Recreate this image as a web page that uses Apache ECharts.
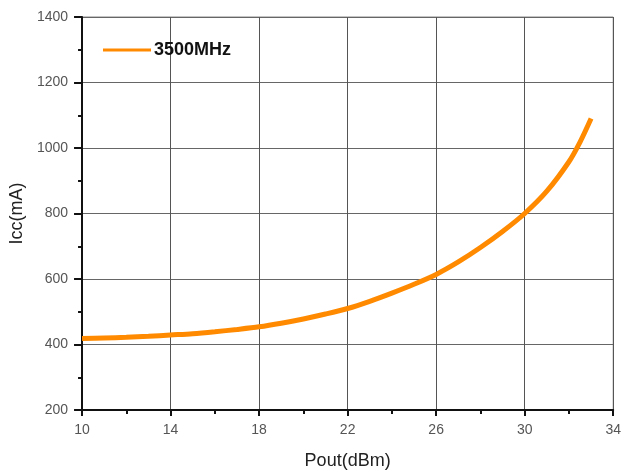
<!DOCTYPE html>
<html>
<head>
<meta charset="utf-8">
<script src="https://cdn.jsdelivr.net/npm/echarts@6/dist/echarts.min.js"></script>
<style>
  html, body { margin: 0; padding: 0; background: #fff; }
  #main { width: 624px; height: 475px; }
</style>
</head>
<body>
<div id="main"></div>
<script>
// Pout (dBm) and Icc (mA)
var pout = [10, 11, 12, 13, 14, 15, 16, 17, 18, 19, 20, 21, 22, 23, 24, 25, 26, 27, 28, 29, 30, 31, 32, 32.5, 33];
var icc  = [418, 420, 422, 425, 429, 433, 439, 446, 454, 465, 478, 493, 510, 532, 557, 584, 614, 652, 696, 745, 800, 868, 958, 1018, 1090];
var seriesName = '3500MHz';

var chart = echarts.init(document.getElementById('main'));
var font = 'Liberation Sans, Arial, sans-serif';

var pts = pout.map(function (x, i) { return [x, icc[i]]; });

chart.setOption({
    animation: false,
    grid: {
        left: 82, right: 8, top: 17, bottom: 64,
        show: true, borderColor: '#888', borderWidth: 1
    },
    legend: {
        left: 98, top: 36,
        itemWidth: 48, itemHeight: 14, itemGap: 4,
        data: [{ name: seriesName, icon: 'path://M0,6 L48,6 L48,9 L0,9 Z' }],
        textStyle: { fontFamily: font, fontSize: 18, fontWeight: 'bold', color: '#111', padding: [0, 0, 0, -2] }
    },
    xAxis: {
        type: 'value', min: 10, max: 34, interval: 4,
        name: 'Pout(dBm)', nameLocation: 'middle', nameGap: 42,
        nameTextStyle: { fontFamily: font, fontSize: 18, color: '#222' },
        axisLine: { lineStyle: { color: '#111', width: 2 } },
        axisTick: { show: true, inside: false, length: 6, lineStyle: { color: '#111', width: 2 } },
        minorTick: { show: true, splitNumber: 2, length: 4, lineStyle: { color: '#111', width: 2 } },
        axisLabel: { fontFamily: font, fontSize: 14, color: '#555', margin: 13 },
        splitLine: { show: true, lineStyle: { color: '#555', width: 1 } }
    },
    yAxis: {
        type: 'value', min: 200, max: 1400, interval: 200,
        name: 'Icc(mA)', nameLocation: 'middle', nameGap: 50,
        nameTextStyle: { fontFamily: font, fontSize: 18, color: '#222' },
        axisLine: { show: true, lineStyle: { color: '#111', width: 2 } },
        axisTick: { show: true, inside: false, length: 8, lineStyle: { color: '#111', width: 2 } },
        minorTick: { show: true, splitNumber: 2, length: 4, lineStyle: { color: '#111', width: 2 } },
        axisLabel: { fontFamily: font, fontSize: 14, color: '#555', margin: 14, formatter: function (v) { return String(v); } },
        splitLine: { show: true, lineStyle: { color: '#666', width: 1 } }
    },
    series: [{
        name: seriesName,
        type: 'line',
        data: pts,
        smooth: 0.3,
        showSymbol: false,
        color: '#FF8A00',
        lineStyle: { width: 5, color: '#FF8A00' }
    }]
});
</script>
</body>
</html>
